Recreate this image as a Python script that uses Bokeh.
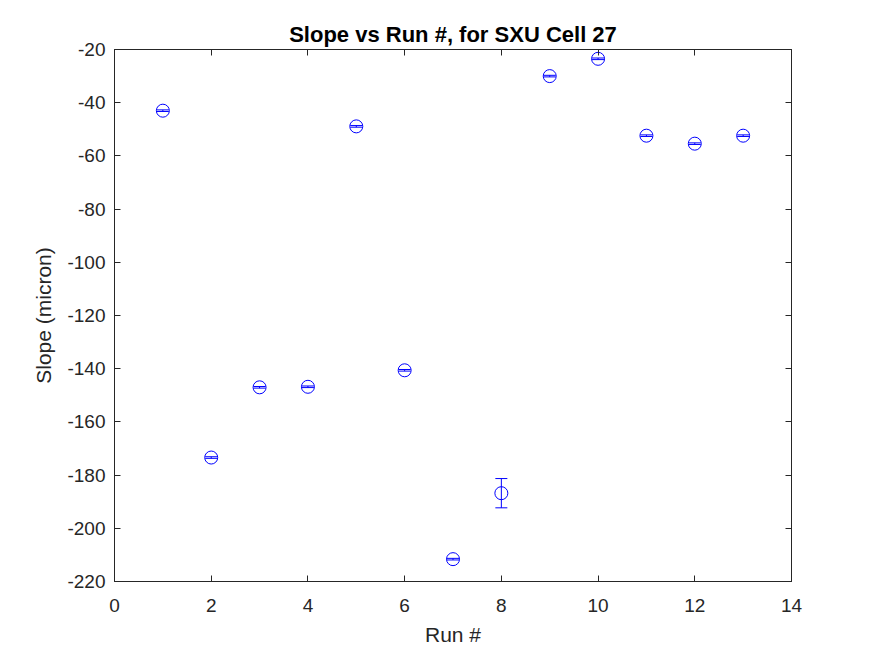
from bokeh.plotting import figure
from bokeh.models import ColumnDataSource, Whisker, TeeHead, LinearAxis, Range1d, FixedTicker
from bokeh.embed import file_html
from bokeh.resources import INLINE

runs = [1, 2, 3, 4, 5, 6, 7, 8, 9, 10, 11, 12, 13]
slopes = [-43.0, -173.4, -147.0, -146.8, -48.9, -140.6, -211.6, -186.8, -30.0, -23.5, -52.4, -55.4, -52.4]
errors = [0.3, 0.3, 0.3, 0.3, 0.3, 0.3, 0.3, 5.5, 0.3, 0.3, 0.3, 0.3, 0.3]
x_ticks = [0, 2, 4, 6, 8, 10, 12, 14]
y_ticks = [-220, -200, -180, -160, -140, -120, -100, -80, -60, -40, -20]

src = ColumnDataSource(dict(
    x=runs, y=slopes,
    lo=[s - e for s, e in zip(slopes, errors)],
    hi=[s + e for s, e in zip(slopes, errors)],
))

FONT = "Liberation Sans"
AX = "#262626"

p = figure(width=875, height=656, output_backend="svg", toolbar_location=None,
           x_range=Range1d(0, 14), y_range=Range1d(-220, -20),
           min_border_left=114, min_border_right=84, min_border_top=49, min_border_bottom=75,
           title="Slope vs Run #, for SXU Cell 27")
p.title.align = "center"
p.title.text_font = FONT
p.title.text_font_size = "22px"
p.title.text_font_style = "bold"
p.title.text_color = "#000000"
p.title.standoff = 6
p.xgrid.visible = False
p.ygrid.visible = False
p.outline_line_color = AX
p.outline_line_width = 1

def style(ax, labels=True):
    ax.axis_line_color = AX
    ax.major_tick_line_color = AX
    ax.major_tick_in = 6
    ax.major_tick_out = 0
    ax.minor_tick_line_color = None
    ax.major_label_text_font = FONT
    ax.major_label_text_font_size = "19px"
    ax.major_label_text_color = AX
    ax.axis_label_text_font = FONT
    ax.axis_label_text_font_size = "21px"
    ax.axis_label_text_font_style = "normal"
    ax.axis_label_text_color = AX
    if not labels:
        ax.major_label_text_font_size = "0px"
        ax.major_label_text_color = None

for ax in p.xaxis:
    ax.ticker = FixedTicker(ticks=x_ticks)
    ax.major_label_overrides = {v: str(v) for v in x_ticks}
    ax.major_label_standoff = 17
    ax.axis_label = "Run #"
    ax.axis_label_standoff = 8
    style(ax)
for ax in p.yaxis:
    ax.ticker = FixedTicker(ticks=y_ticks)
    ax.major_label_overrides = {v: str(v) for v in y_ticks}
    ax.major_label_standoff = 9
    ax.axis_label = "Slope (micron)"
    ax.axis_label_standoff = 9
    style(ax)

top = LinearAxis(ticker=FixedTicker(ticks=x_ticks))
style(top, labels=False)
p.add_layout(top, "above")
right = LinearAxis(ticker=FixedTicker(ticks=y_ticks))
style(right, labels=False)
p.add_layout(right, "right")

w = Whisker(source=src, base="x", upper="hi", lower="lo", line_color="#0000ff", line_width=1,
            upper_head=TeeHead(size=12, line_color="#0000ff", line_width=1),
            lower_head=TeeHead(size=12, line_color="#0000ff", line_width=1))
p.add_layout(w)
p.scatter("x", "y", source=src, marker="circle", size=13, fill_color=None,
          line_color="#0000ff", line_width=1)

open("out.html", "w").write(file_html(p, INLINE))
